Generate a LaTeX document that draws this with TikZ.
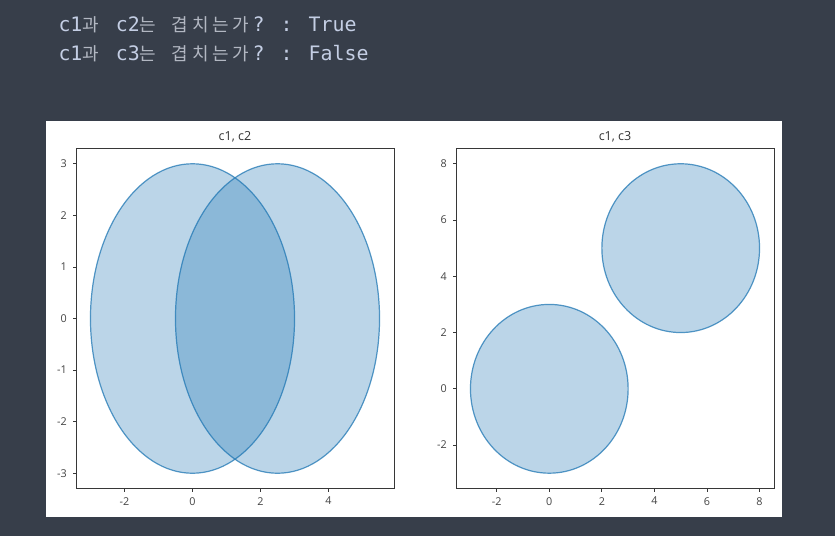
\documentclass[tikz,border=0pt]{standalone}
\usepackage{fontspec}
\newfontfamily\monofont{DejaVu Sans Mono}
\newfontfamily\krfont{Noto Sans CJK KR}
\newfontfamily\tickfont{Open Sans}
\definecolor{bg}{RGB}{55,62,74}
\definecolor{latin}{RGB}{196,206,228}
\definecolor{hangul}{RGB}{178,183,194}
\definecolor{cz}{RGB}{31,119,180}
\definecolor{ax}{RGB}{55,55,55}
\definecolor{ticklbl}{RGB}{68,68,68}
\newcommand\hg[2]{\makebox[#1pt][l]{\krfont\fontsize{18}{22}\selectfont\color{hangul}#2}}
\begin{document}
\begin{tikzpicture}[x=1pt,y=-1pt,
  disk/.style={fill=cz, fill opacity=0.3, draw=cz, draw opacity=0.75, line width=1.2pt},
  frame/.style={draw=ax, line width=0.8pt},
  tickmark/.style={draw=ax, line width=0.8pt},
  ticklabel/.style={font=\tickfont\fontsize{10.8}{12}\selectfont, text=ticklbl, inner sep=0pt},
  plottitle/.style={font=\tickfont\fontsize{12.5}{14}\selectfont, text=black!80, inner sep=0pt},
  console/.style={font=\monofont\fontsize{19.9}{22}\selectfont, text=latin, inner sep=0pt, anchor=base west}]
\useasboundingbox (0,0) rectangle (835,536);
\fill[bg] (0,0) rectangle (835,536);
\fill[white] (46,121) rectangle (782,517);

% console text
\node[console] (line1) at (58.3,31.7) {c1\hg{21.5}{과} c2\hg{20}{는} \hg{20.2}{겹}\hg{20.2}{치}\hg{20.2}{는}\hg{20.2}{가}? : True};
\node[console] (line2) at (58.3,60) {c1\hg{21.5}{과} c3\hg{20}{는} \hg{20.2}{겹}\hg{20.2}{치}\hg{20.2}{는}\hg{20.2}{가}? : False};

% left plot
\draw[disk] (192.5,318.5) ellipse [x radius=102.03pt, y radius=154.74pt];
\draw[disk] (277.5,318.5) ellipse [x radius=102.03pt, y radius=154.74pt];
\draw[frame] (76,148.3) rectangle (394,488.7);
\foreach \v in {-2,0,2,4} {
  \draw[tickmark] ({192.5+(\v)*34.01},488.7) -- ++(0,3.5);
  \node[ticklabel, anchor=north] (lx\v) at ({192.5+(\v)*34.01},497) {\v};
}
\foreach \v in {-3,-2,-1,0,1,2,3} {
  \draw[tickmark] (76,{318.5-(\v)*51.58}) -- ++(-3.5,0);
  \node[ticklabel, anchor=east] (ly\v) at (67,{318.5-(\v)*51.58}) {\v};
}
\node[plottitle] (t1) at (235,136.7) {c1, c2};

% right plot
\draw[disk] (549.3,388.8) ellipse [x radius=78.84pt, y radius=84.39pt];
\draw[disk] (680.7,248.15) ellipse [x radius=78.84pt, y radius=84.39pt];
\draw[frame] (456,148.3) rectangle (774,488.7);
\foreach \v in {-2,0,2,4,6,8} {
  \draw[tickmark] ({549.3+(\v)*26.28},488.7) -- ++(0,3.5);
  \node[ticklabel, anchor=north] (rx\v) at ({549.3+(\v)*26.28},497) {\v};
  \draw[tickmark] (456,{388.8-(\v)*28.13}) -- ++(-3.5,0);
  \node[ticklabel, anchor=east] (ry\v) at (447,{388.8-(\v)*28.13}) {\v};
}
\node[plottitle] (t2) at (615,136.7) {c1, c3};
\end{tikzpicture}
\end{document}
